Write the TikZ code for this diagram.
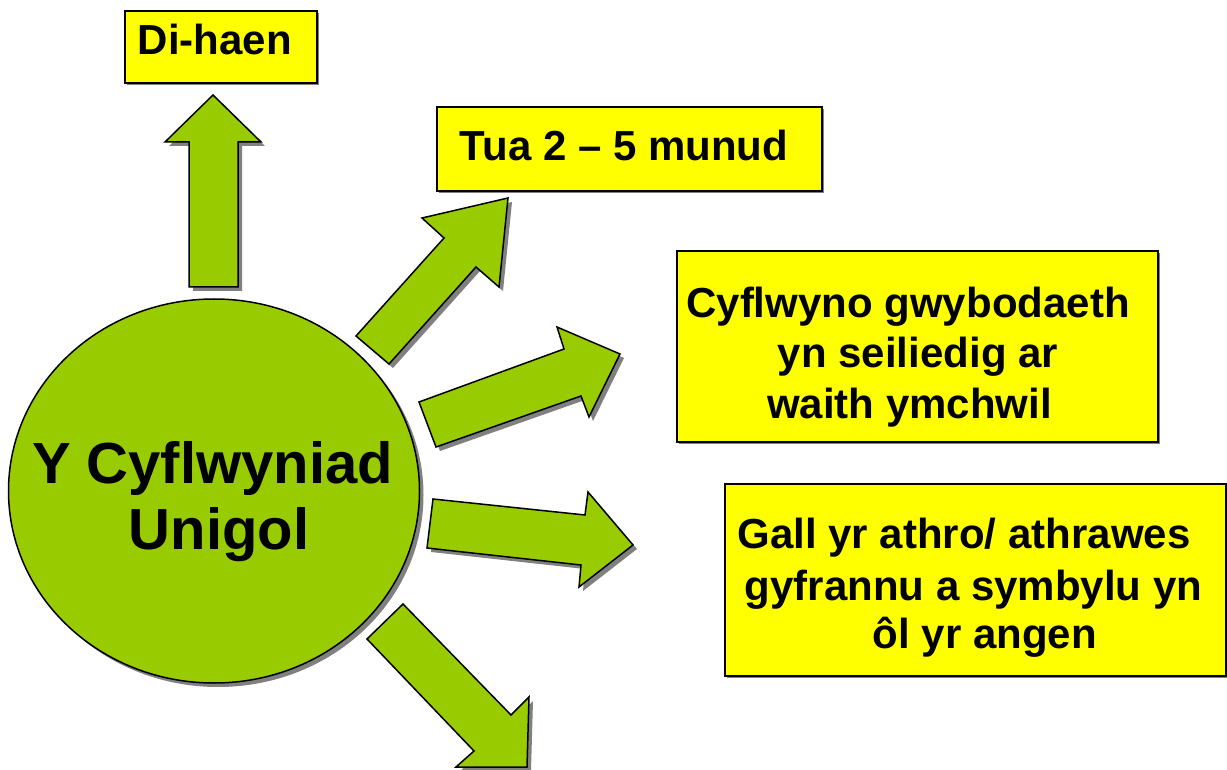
\documentclass[tikz,border=0pt]{standalone}
\usepackage{fontspec}
\setmainfont{Liberation Sans}
\usetikzlibrary{shadows,shapes.geometric}
\definecolor{leaf}{HTML}{99CC00}
\definecolor{lemon}{HTML}{FFFF00}
\definecolor{shade}{HTML}{808080}
\tikzset{
  shd/.style={drop shadow={shadow xshift=4pt,shadow yshift=-4pt,fill=shade,opacity=1}},
  blockarrow/.style={shd,fill=leaf,draw=black,line width=1.5pt,line join=miter},
  hub/.style={ellipse,shd,fill=leaf,draw=black,line width=1.5pt,inner sep=0pt,
    minimum width=411pt,minimum height=384pt},
  yellowbox/.style={rectangle,fill=lemon,draw=black,line width=1.5pt,inner sep=0pt,
    drop shadow={shadow xshift=2pt,shadow yshift=-2pt,fill=shade,opacity=1}},
  boxtext/.style={inner sep=0pt,anchor=base,font=\fontsize{42}{50}\selectfont\bfseries},
  hubtext/.style={inner sep=0pt,anchor=base,font=\fontsize{58}{66}\selectfont\bfseries}
}
\begin{document}
\begin{tikzpicture}[x=1pt,y=-1pt]
\useasboundingbox[fill=white] (0,0) rectangle (1227,770);

% central circle
\node[hub] (hub) at (214,491) {};
\node[hubtext] (hubA) at (212.5,483) {Y Cyflwyniad};
\node[hubtext] (hubB) at (219,549) {Unigol};

% block arrows
\path[blockarrow] (189,287) -- (189,142) -- (165,142) -- (213,95) -- (261,142) -- (238,142) -- (238,287) -- cycle;
\path[blockarrow] (356,336) -- (444,238) -- (422,218) -- (508,198) -- (499,287) -- (476,267) -- (389,364) -- cycle;
\path[blockarrow] (419,402) -- (564,349) -- (557,327) -- (620,354) -- (589,417) -- (581,396) -- (436,447) -- cycle;
\path[blockarrow] (433,499) -- (585,515) -- (588,492) -- (633,545) -- (579,587) -- (581,565) -- (427,548) -- cycle;
\path[blockarrow] (403,604) -- (511,715) -- (529,697) -- (527,767) -- (456,767) -- (474,751) -- (367,639) -- cycle;

% boxes
\node[yellowbox,minimum width=192pt,minimum height=72pt] (b1) at (221,47) {};
\node[boxtext] (b1t) at (215,55) {Di-haen};

\node[yellowbox,minimum width=385pt,minimum height=84pt] (b2) at (629.5,149) {};
\node[boxtext] (b2t) at (624,161) {Tua 2 – 5 munud};

\node[yellowbox,minimum width=481pt,minimum height=191pt] (b3) at (917.5,346.5) {};
\node[boxtext] (b3a) at (908,317) {Cyflwyno gwybodaeth};
\node[boxtext] (b3b) at (918,367) {yn seiliedig ar};
\node[boxtext] (b3c) at (909.5,418) {waith ymchwil};

\node[yellowbox,minimum width=501pt,minimum height=192pt] (b4) at (975.5,580) {};
\node[boxtext] (b4a) at (964,548) {Gall yr athro/ athrawes};
\node[boxtext] (b4b) at (973.5,600) {gyfrannu a symbylu yn};
\node[boxtext] (b4c) at (985,648) {ôl yr angen};
\end{tikzpicture}
\end{document}
